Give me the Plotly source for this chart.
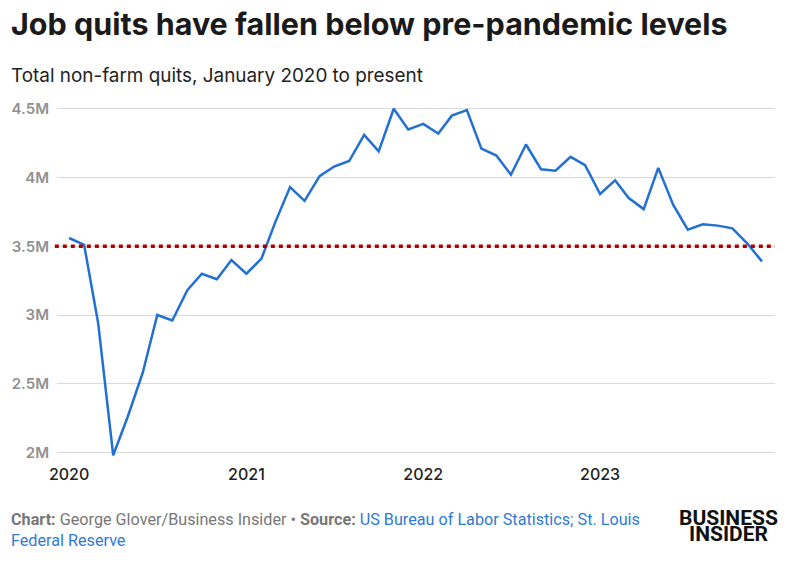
import pandas as pd
import plotly.graph_objects as go

months = pd.date_range("2020-01-01", periods=48, freq="MS")
quits_millions = [
    3.56, 3.51, 2.94, 1.98, 2.26, 2.58, 3.00, 2.96, 3.18, 3.30, 3.26, 3.40,
    3.30, 3.41, 3.67, 3.93, 3.83, 4.01, 4.08, 4.12, 4.31, 4.19, 4.50, 4.35,
    4.39, 4.32, 4.45, 4.49, 4.21, 4.16, 4.02, 4.24, 4.06, 4.05, 4.15, 4.09,
    3.88, 3.98, 3.85, 3.77, 4.07, 3.80, 3.62, 3.66, 3.65, 3.63, 3.52, 3.39,
]
pre_pandemic_level = 3.5
y_tick_vals = [2, 2.5, 3, 3.5, 4, 4.5]
y_tick_text = ["2M", "2.5M", "3M", "3.5M", "4M", "4.5M"]
x_tick_vals = ["2020-01-01", "2021-01-01", "2022-01-01", "2023-01-01"]
x_tick_text = ["2020", "2021", "2022", "2023"]

# page body has an 8px margin; layout in figure pixels = reference pixels - 8
W, H = 800, 547
L, R, T, B = 49, 33, 98, 97
PW = W - L - R

fig = go.Figure()
fig.add_trace(go.Scatter(
    x=months, y=quits_millions, mode="lines",
    line=dict(color="#2170d2", width=2.5),
    hoverinfo="skip", showlegend=False,
))
fig.add_shape(
    type="line", xref="paper", yref="y", x0=-0.003, x1=1,
    y0=pre_pandemic_level, y1=pre_pandemic_level,
    line=dict(color="#b00000", width=3.5, dash="4px,4px"),
)

fig.update_layout(
    width=W, height=H,
    margin=dict(l=L, r=R, t=T, b=B, autoexpand=False),
    paper_bgcolor="white", plot_bgcolor="white",
    font=dict(family="Inter, Roboto, Arial, sans-serif"),
    xaxis=dict(
        range=["2019-12-07", "2023-12-28"],
        tickvals=x_tick_vals, ticktext=x_tick_text,
        showgrid=False, zeroline=False, showline=False, automargin=False,
        ticks="outside", ticklen=2, tickcolor="rgba(0,0,0,0)",
        tickfont=dict(family="Inter", size=16, color="#222", weight=500),
    ),
    yaxis=dict(
        range=[1.96, 4.52],
        tickvals=y_tick_vals, ticktext=y_tick_text,
        showgrid=True, gridcolor="#d9d9d9", gridwidth=1,
        zeroline=False, showline=False, automargin=False,
        ticks="outside", ticklen=4, tickcolor="rgba(0,0,0,0)",
        tickfont=dict(family="Inter", size=15, color="#909090", weight=600),
    ),
)

x_left = (1 - L) / PW
fig.add_annotation(
    text="<b>Job quits have fallen below pre-pandemic levels</b>",
    xref="paper", yref="paper", x=x_left, y=1, yshift=83,
    xanchor="left", yanchor="middle", showarrow=False,
    font=dict(family="Inter", size=30.5, color="#1a1a1a"),
)
fig.add_annotation(
    text="Total non-farm quits, January 2020 to present",
    xref="paper", yref="paper", x=x_left, y=1, yshift=31,
    xanchor="left", yanchor="middle", showarrow=False,
    font=dict(family="Inter", size=18.9, color="#222"),
)
fig.add_annotation(
    text=("<b>Chart:</b> George Glover/Business Insider • <b>Source:</b> "
          "<span style='color:#2f7bd4'>US Bureau of Labor Statistics; St. Louis</span><br>"
          "<span style='color:#2f7bd4'>Federal Reserve</span>"),
    xref="paper", yref="paper", x=x_left, y=0, yshift=-50,
    xanchor="left", yanchor="top", align="left", showarrow=False,
    font=dict(family="Roboto", size=16.2, color="#777777"),
)
logo_x = (720.5 - L) / PW
fig.add_annotation(
    text="<b>BUSINESS</b>",
    xref="paper", yref="paper", x=logo_x, y=0, yshift=-(510 - (H - B)),
    xanchor="center", yanchor="middle", showarrow=False,
    font=dict(family="Roboto", size=21, color="#111"),
)
fig.add_annotation(
    text="<b>INSIDER</b>",
    xref="paper", yref="paper", x=logo_x, y=0, yshift=-(526 - (H - B)),
    xanchor="center", yanchor="middle", showarrow=False,
    font=dict(family="Roboto", size=21, color="#111"),
)

fig.write_html("out.html")
